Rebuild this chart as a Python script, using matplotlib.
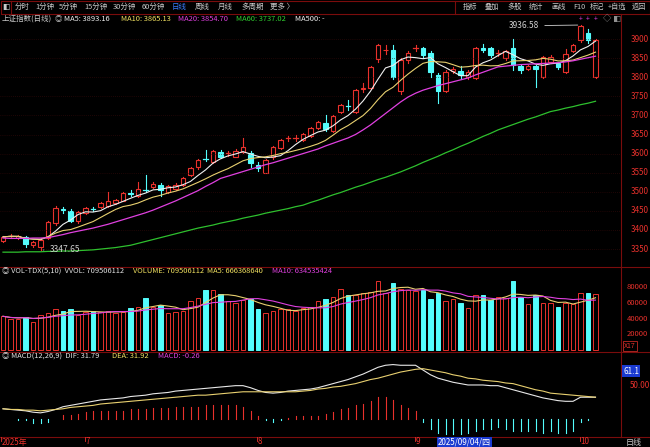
import numpy as np
import pandas as pd
import matplotlib
matplotlib.use('Agg')
import matplotlib.pyplot as plt
from matplotlib.patches import Rectangle

plt.rcParams['font.family'] = ['Noto Sans CJK SC', 'DejaVu Sans']

# daily candles (index 0 = mid June 2025)
opens = [3372, 3384, 3380, 3382, 3360, 3355, 3378, 3418, 3454, 3450,
         3424, 3445, 3456, 3460, 3462, 3470, 3477, 3497, 3490, 3506,
         3512, 3518, 3500, 3508, 3518, 3545, 3565, 3588, 3578, 3605,
         3600, 3592, 3605, 3602, 3570, 3550, 3590, 3615, 3640, 3640,
         3635, 3646, 3667, 3680, 3660, 3710, 3726, 3710, 3769, 3772,
         3848, 3870, 3870, 3765, 3845, 3875, 3876, 3863, 3806, 3764,
         3815, 3816, 3800, 3798, 3876, 3876, 3863, 3850, 3876, 3829,
         3822, 3829, 3800, 3840, 3837, 3814, 3869, 3897, 3916, 3800]
closes = [3382, 3385, 3383, 3363, 3368, 3375, 3421, 3458, 3452, 3424,
          3447, 3457, 3455, 3470, 3475, 3478, 3497, 3495, 3508, 3505,
          3520, 3505, 3515, 3518, 3535, 3563, 3583, 3587, 3607, 3592,
          3601, 3608, 3618, 3575, 3562, 3583, 3617, 3636, 3641, 3641,
          3651, 3667, 3683, 3665, 3698, 3727, 3725, 3767, 3771, 3827,
          3884, 3872, 3800, 3845, 3863, 3876, 3858, 3814, 3764, 3814,
          3822, 3806, 3814, 3876, 3871, 3858, 3864, 3869, 3832, 3819,
          3829, 3822, 3853, 3853, 3827, 3861, 3884, 3933, 3897, 3897]
highs = [3385, 3390, 3386, 3385, 3372, 3378, 3424, 3462, 3460, 3456,
         3450, 3460, 3459, 3473, 3500, 3482, 3500, 3506, 3525, 3545,
         3525, 3523, 3518, 3522, 3538, 3566, 3586, 3610, 3610, 3610,
         3606, 3612, 3640, 3608, 3578, 3585, 3620, 3639, 3646, 3648,
         3654, 3670, 3686, 3700, 3701, 3730, 3740, 3770, 3785, 3830,
         3888, 3885, 3885, 3850, 3868, 3885, 3880, 3868, 3812, 3818,
         3828, 3830, 3818, 3878, 3888, 3880, 3870, 3872, 3900, 3832,
         3832, 3833, 3856, 3857, 3841, 3875, 3888, 3936.58, 3925, 3900]
lows = [3368, 3378, 3377, 3355, 3356, 3347.65, 3376, 3414, 3445, 3420,
        3418, 3442, 3450, 3457, 3460, 3467, 3475, 3490, 3487, 3500,
        3510, 3488, 3497, 3505, 3515, 3542, 3560, 3580, 3575, 3589,
        3595, 3590, 3602, 3565, 3555, 3549, 3587, 3612, 3633, 3632,
        3632, 3644, 3664, 3660, 3656, 3705, 3715, 3706, 3760, 3768,
        3840, 3860, 3795, 3755, 3838, 3868, 3850, 3800, 3733, 3760,
        3810, 3795, 3795, 3795, 3865, 3852, 3855, 3846, 3820, 3812,
        3818, 3774, 3798, 3836, 3822, 3810, 3865, 3893, 3890, 3798]

ma20 = [3379, 3378, 3378, 3378, 3379, 3379, 3380,
        3384, 3388, 3393, 3397, 3401, 3405, 3410,
        3415, 3421, 3427, 3433, 3439, 3445, 3452,
        3460, 3468, 3476, 3485, 3494, 3503,
        3514, 3524, 3535,
        3541, 3547, 3553, 3559, 3565, 3571, 3576, 3582, 3588,
        3594, 3600, 3606, 3612, 3620, 3627, 3634, 3641, 3650,
        3662, 3675, 3690, 3705, 3720, 3735,
        3748, 3758, 3766, 3772,
        3778, 3783, 3788, 3793, 3798,
        3806, 3813, 3820, 3827,
        3829, 3831, 3833, 3834, 3835,
        3836, 3837, 3838, 3840,
        3843, 3847, 3851, 3855]
ma60 = [3342, 3342, 3342, 3343, 3343, 3343, 3344, 3344, 3345, 3345, 3346, 3347, 3348,
        3350, 3352, 3354, 3357, 3360,
        3365, 3370, 3375, 3380, 3385, 3390, 3395, 3400, 3405,
        3409, 3413, 3418, 3422, 3426, 3431, 3435, 3439, 3444, 3448, 3452, 3456, 3461, 3465,
        3472, 3478, 3485, 3492, 3498, 3505, 3512, 3518, 3525, 3532, 3538, 3545, 3552,
        3560, 3568, 3577, 3585, 3593, 3602, 3610,
        3619, 3627, 3636, 3645, 3653, 3662,
        3669, 3676, 3683, 3690, 3696, 3703, 3710,
        3714, 3719, 3723, 3728, 3732, 3737]

# volume in thousands
volume = [43, 40, 40, 42, 36, 44, 47, 52, 50, 52,
          45, 48, 50, 48, 50, 47, 48, 53, 55, 66,
          55, 57, 47, 48, 50, 62, 66, 76, 77, 71,
          62, 60, 64, 65, 52, 47, 50, 52, 52, 50,
          53, 55, 62, 65, 68, 78, 70, 70, 72, 74,
          88, 72, 86, 78, 76, 75, 77, 65, 72, 62,
          65, 60, 54, 70, 70, 64, 68, 66, 88, 68,
          58, 70, 60, 60, 55, 60, 58, 72, 72, 71]

dif = [15, 14, 13, 12, 10, 9, 11, 14, 18, 20, 22, 24, 26, 28,
       29, 30, 31, 33, 34, 35, 37, 38, 39, 41, 42, 43,
       44, 45, 46, 47, 48, 49, 49, 46, 42, 39, 38, 39, 41, 42, 43,
       44, 46, 49, 52, 55, 58, 62, 66, 71, 76, 79, 80, 79, 79, 79,
       72, 65, 60, 57, 54, 52, 50, 50, 50, 49, 49,
       46, 43, 40, 37, 34, 31, 29, 27, 26, 26, 32, 32, 32]
dea = [15, 14, 14, 13, 13, 12, 13, 14, 15, 17, 18, 19, 20, 22,
       23, 24, 25, 26, 27, 28, 29, 30, 31, 32, 33, 34, 35, 35, 36, 37, 38, 39, 40,
       40, 40, 40, 40, 40, 40, 40, 41, 42, 44, 45, 47, 48, 50, 52,
       55, 58, 60, 63, 66, 69, 71, 73, 74, 72, 70, 68, 65, 63, 60,
       59, 57, 56, 55, 53, 52, 49, 46, 43, 41, 38, 37, 36, 35, 34, 33, 32]

price_ticks = list(range(3350, 3901, 50))
vol_ticks = [20000, 40000, 60000, 80000]
month_labels = [('2025年', 0), ('7', 11), ('8', 34), ('9', 55), ('10', 77)]

RED = '#e8312c'
CYAN = '#54fcfc'
DARKRED = '#7a0c0c'
W, H = 650, 447

fig = plt.figure(figsize=(6.5, 4.47), dpi=100, facecolor='black')


def px_axes(x0, y0, x1, y1):
    ax = fig.add_axes([x0 / W, 1 - y1 / H, (x1 - x0) / W, (y1 - y0) / H])
    ax.set_facecolor('black')
    for s in ax.spines.values():
        s.set_visible(False)
    ax.set_xticks([])
    ax.set_yticks([])
    return ax


n = len(closes)
x = np.arange(n)
XL = (-0.4, 621 / 7.5 - 0.4)
up = np.array(closes) >= np.array(opens)

# main price panel
ax = px_axes(0, 14, 621, 267)
ax.set_xlim(*XL)
ax.set_ylim(3900 - (267 - 39) / 0.382, 3900 + 25 / 0.382)
for p in price_ticks:
    ax.axhline(p, color='#3c0b0b', lw=0.5, ls=(0, (1, 2)))
for i in range(n):
    o, c, h, l = opens[i], closes[i], highs[i], lows[i]
    col = RED if up[i] else CYAN
    lo, hi = min(o, c), max(o, c)
    ax.plot([i, i], [l, lo], color=col, lw=0.8)
    ax.plot([i, i], [hi, h], color=col, lw=0.8)
    if hi - lo < 1.5:
        ax.plot([i - 0.33, i + 0.33], [c, c], color=col, lw=0.9)
    elif up[i]:
        ax.add_patch(Rectangle((i - 0.33, lo), 0.66, hi - lo, fc='black', ec=col, lw=0.8))
    else:
        ax.add_patch(Rectangle((i - 0.33, lo), 0.66, hi - lo, fc=col, ec=col, lw=0.8))
cs = pd.Series(closes)
ax.plot(x, cs.rolling(5, min_periods=1).mean(), color='#f0f0f0', lw=0.8)
ax.plot(x, cs.rolling(10, min_periods=1).mean(), color='#e8d070', lw=0.8)
ax.plot(x, ma20, color='#e040e0', lw=0.9)
ax.plot(x, ma60, color='#2ec02e', lw=0.9)
imin = int(np.argmin(lows))
ax.annotate(f'{lows[imin]:.2f}', xy=(imin, lows[imin]), xytext=(imin + 1.2, lows[imin]),
            color='#d0d0d0', fontsize=6, va='center',
            arrowprops=dict(arrowstyle='-', color='#d0d0d0', lw=0.6))
imax = int(np.argmax(highs))
ax.annotate(f'{highs[imax]:.2f}', xy=(imax, highs[imax]), xytext=(imax - 5.5, highs[imax] - 2),
            color='#d0d0d0', fontsize=6, va='center', ha='right',
            arrowprops=dict(arrowstyle='-', color='#d0d0d0', lw=0.6))
for i in range(imax, n):
    ax.text(i, 3952, '+', color='#e040e0', fontsize=5, ha='center', va='center')

# volume panel
av = px_axes(0, 267, 621, 352)
av.set_xlim(*XL)
av.set_ylim(-2500, (350 - 267) * 1274)
vol = np.array(volume) * 1000
for i in range(n):
    if up[i]:
        av.add_patch(Rectangle((i - 0.3, 0), 0.6, vol[i], fc='black', ec=RED, lw=0.7))
    else:
        av.add_patch(Rectangle((i - 0.3, 0), 0.6, vol[i], fc=CYAN, ec=CYAN, lw=0.7))
vs = pd.Series(vol)
av.plot(x, vs.rolling(5, min_periods=1).mean(), color='#e8d070', lw=0.8)
av.plot(x, vs.rolling(10, min_periods=1).mean(), color='#e040e0', lw=0.8)

# MACD panel
am = px_axes(0, 352, 621, 437)
am.set_xlim(*XL)
am.set_ylim(-26.5, 98.5)
hist = 2 * (np.array(dif) - np.array(dea))
for i in range(n):
    am.plot([i, i], [0, hist[i]], color=RED if hist[i] >= 0 else CYAN, lw=0.8)
am.plot(x, dif, color='#e8e8e8', lw=0.8)
am.plot(x, dea, color='#e8d070', lw=0.8)

# right axis labels and frame lines
for p in price_ticks:
    fig.text(631 / W, 1 - (39 + (3900 - p) * 0.382) / H, str(p), color=RED, fontsize=5.8, va='center')
for v in vol_ticks:
    fig.text(627 / W, 1 - (350 - v / 1274) / H, str(v), color=RED, fontsize=5.5, va='center')
fig.text(624 / W, 1 - 346 / H, 'X17', color=RED, fontsize=5, va='center',
         bbox=dict(fc='black', ec=RED, lw=0.5, pad=0.8))
fig.text(623 / W, 1 - 371 / H, '61.1', color='white', fontsize=5.8, va='center',
         bbox=dict(fc='#1a3ad0', ec='none', pad=0.8))
fig.text(630 / W, 1 - 385 / H, '50.00', color=RED, fontsize=5.8, va='center')

line_ax = fig.add_axes([0, 0, 1, 1], facecolor='none')
line_ax.set_xlim(0, W)
line_ax.set_ylim(H, 0)
line_ax.axis('off')
line_ax.plot([621, 621], [14, 437], color=DARKRED, lw=0.8)
for yy in (267, 352, 437):
    line_ax.plot([0, W], [yy, yy], color=DARKRED, lw=0.8)
line_ax.add_patch(Rectangle((0.5, 0.5), W - 1, 13, fc='black', ec=DARKRED, lw=0.8))
line_ax.plot([455, 455], [0.5, 13.5], color=DARKRED, lw=0.8)
line_ax.plot([11, 11], [0.5, 13.5], color=DARKRED, lw=0.8)

# toolbar
tool_l = [('分时', 15), ('1分钟', 35), ('5分钟', 59), ('15分钟', 84), ('30分钟', 113),
          ('60分钟', 142), ('日线', 172), ('周线', 195), ('月线', 218), ('多周期', 241), ('更多 〉', 270)]
for t, xx in tool_l:
    fig.text(xx / W, 1 - 7 / H, t, color='#3a7cff' if t == '日线' else '#c8c8c8', fontsize=5.4, va='center')
fig.text(2 / W, 1 - 7 / H, '◧', color='#c8c8c8', fontsize=5.5, va='center')
tool_r = [('指标', 463), ('叠加', 485), ('多股', 507), ('统计', 529), ('画线', 551), ('F10', 573),
          ('标记', 590), ('+自选', 608), ('返回', 632)]
for t, xx in tool_r:
    fig.text(xx / W, 1 - 7 / H, t, color='#c8c8c8', fontsize=5.2, va='center')

# header lines
def header(items, y):
    for t, xx, col in items:
        fig.text(xx / W, 1 - y / H, t, color=col, fontsize=5.4, va='center')


header([('上证指数(日线)', 2, '#c8c8c8'), ('◎', 55, '#c8c8c8'), ('MA5: 3893.16', 64, '#f0f0f0'),
        ('MA10: 3865.13', 121, '#f0e060'), ('MA20: 3854.70', 178, '#e040e0'),
        ('MA60: 3737.02', 236, '#30d030'), ('MA500: -', 295, '#f0f0f0')], 19)
header([('◎ VOL-TDX(5,10)  VVOL: 709506112', 2, '#e0e0e0'), ('VOLUME: 709506112', 133, '#f0e060'),
        ('MA5: 666368640', 207, '#f0e060'), ('MA10: 634535424', 272, '#e040e0')], 271)
header([('◎ MACD(12,26,9)  DIF: 31.79', 2, '#e0e0e0'), ('DEA: 31.92', 112, '#f0e060'),
        ('MACD: -0.26', 158, '#e040e0')], 356)
fig.text(603 / W, 1 - 19 / H, '◇ ◧', color='#909090', fontsize=6, va='center')

# date axis
for t, i in month_labels:
    xx = 3 + 7.5 * i if i else 2
    fig.text(xx / W, 1 - 442 / H, t, color=RED, fontsize=5.8, va='center')
    line_ax.plot([xx - 1, xx - 1], [437, 441], color=RED, lw=0.6)
fig.text(438 / W, 1 - 442 / H, '2025/09/04/四', color='white', fontsize=5.8, va='center',
         bbox=dict(fc='#1a3ad0', ec='none', pad=0.6))
fig.text(626 / W, 1 - 442 / H, '日线', color='#c8c8c8', fontsize=5.8, va='center')

fig.savefig('out.png', dpi=100, facecolor='black')
